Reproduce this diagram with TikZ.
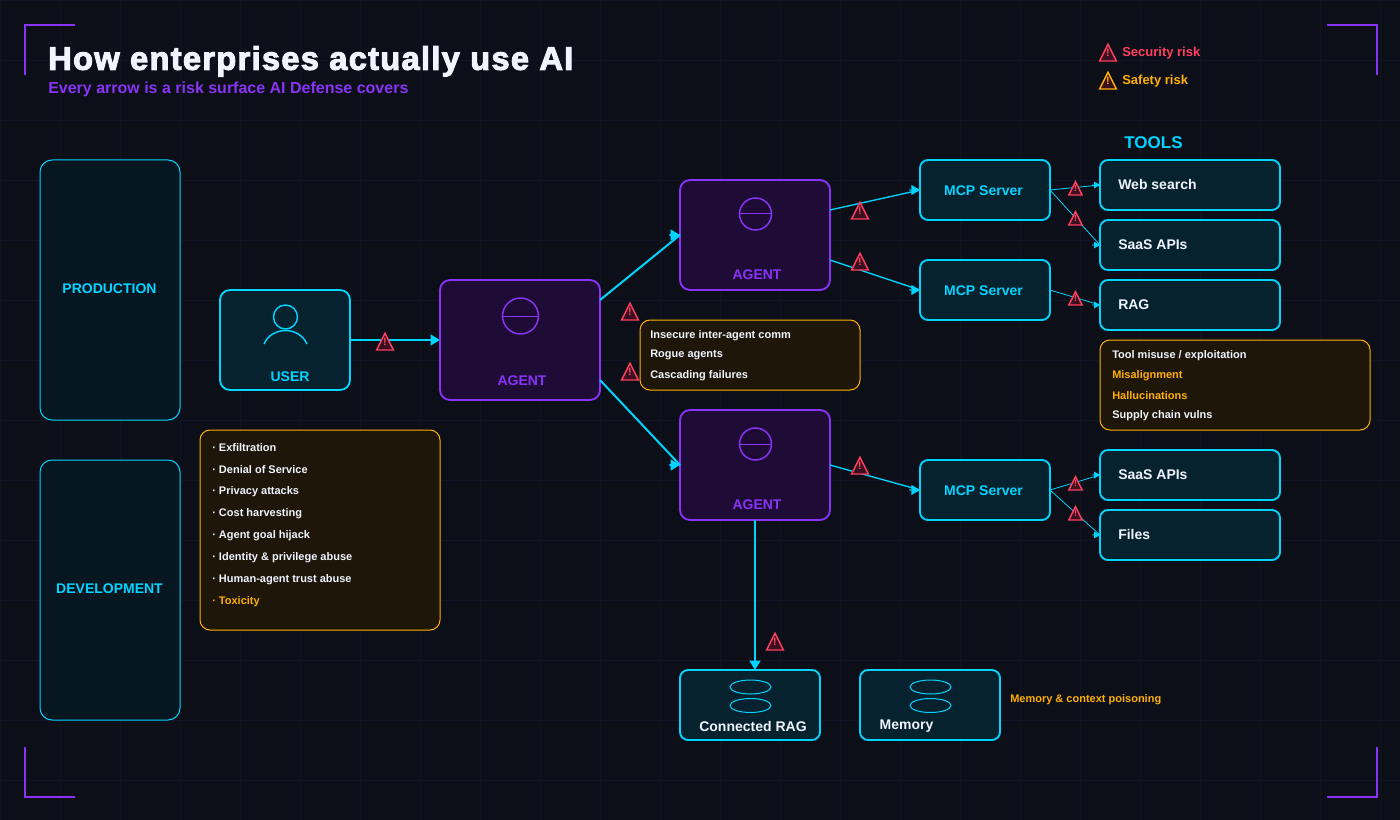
\documentclass[tikz,border=0pt]{standalone}
\usepackage{fontspec}
\setmainfont{Liberation Sans}
\newfontfamily\titlefont[FakeBold=3,LetterSpace=3.9]{Liberation Sans Bold}
\usetikzlibrary{shapes.geometric, arrows.meta}

\definecolor{bgdark}{HTML}{0C0F18}
\definecolor{gridline}{HTML}{121325}
\definecolor{cyanline}{HTML}{00D4FF}
\definecolor{cyanfill}{HTML}{06222F}
\definecolor{groupfill}{HTML}{071722}
\definecolor{purpleline}{HTML}{8833F5}
\definecolor{purplefill}{HTML}{1E0C36}
\definecolor{amberline}{HTML}{FFB000}
\definecolor{amberfill}{HTML}{1E1608}
\definecolor{redline}{HTML}{FF4060}
\definecolor{warnfill}{HTML}{3A0F20}
\definecolor{softwhite}{HTML}{F0F4FF}

\tikzset{
    box/.style={draw, rectangle, outer sep=0pt, inner sep=0pt},
    groupbox/.style={box, draw=cyanline, fill=groupfill, line width=0.75pt, rounded corners=9pt,
        minimum width=105pt, minimum height=195pt},
    userbox/.style={box, draw=cyanline, fill=cyanfill, line width=1.4pt, rounded corners=7.5pt,
        minimum width=97.5pt, minimum height=75pt},
    agentbox/.style={box, draw=purpleline, fill=purplefill, line width=1.4pt, rounded corners=7.5pt,
        minimum width=112.5pt, minimum height=82.5pt},
    mcpbox/.style={box, draw=cyanline, fill=cyanfill, line width=1.4pt, rounded corners=6pt,
        minimum width=97.5pt, minimum height=45pt},
    toolbox/.style={box, draw=cyanline, fill=cyanfill, line width=1.4pt, rounded corners=6pt,
        minimum width=135pt, minimum height=37.5pt},
    storebox/.style={box, draw=cyanline, fill=cyanfill, line width=1.4pt, rounded corners=6pt,
        minimum width=105pt, minimum height=52.5pt},
    calloutbox/.style={box, draw=amberline, fill=amberfill, line width=0.75pt, rounded corners=7.5pt},
    cyanlabel/.style={yshift=-0.4pt, text=cyanline, font=\fontsize{10.5}{12}\bfseries},
    purplelabel/.style={yshift=-0.4pt, text=purpleline, font=\fontsize{10.5}{12}\bfseries},
    whitelabel/.style={yshift=-0.4pt, text=softwhite, font=\fontsize{10.5}{12}\bfseries},
    smalltext/.style={yshift=-1pt, text=softwhite, anchor=west, inner sep=0pt, font=\fontsize{8.25}{10}\bfseries},
    ambertext/.style={smalltext, text=amberline},
    bigflow/.style={draw=cyanline, line width=1.5pt, -{Triangle[length=7pt,width=8pt]}},
    midflow/.style={draw=cyanline, line width=1pt, -{Triangle[length=6.5pt,width=7.5pt]}},
    thinflow/.style={draw=cyanline, line width=0.6pt, -{Triangle[length=4.5pt,width=5pt]}},
    warnbig/.style={isosceles triangle, isosceles triangle stretches, shape border rotate=90,
        anchor=lower side, draw=redline, fill=warnfill, text=redline, line width=1.1pt, inner sep=0pt, outer sep=0pt,
        minimum width=12.5pt, minimum height=12.5pt, font=\fontsize{8}{8}\bfseries},
    warnsmall/.style={warnbig, minimum width=10pt, minimum height=10pt, font=\fontsize{6.5}{6.5}\bfseries},
    warnamber/.style={warnbig, draw=amberline, text=amberline},
    iconline/.style={draw=cyanline, line width=0.75pt},
    bracket/.style={draw=purpleline, line width=1.5pt}
}

\begin{document}
\begin{tikzpicture}[x=0.75pt, y=-0.75pt]

    % --- Background ---
    \useasboundingbox (0,0) rectangle (1400,820);
    \fill[bgdark] (0,0) rectangle (1400,820);
    \foreach \gx in {0,60,...,1380} {
        \draw[gridline, line width=0.75pt] (\gx+0.5,0) -- (\gx+0.5,820);
    }
    \foreach \gy in {0,60,...,780} {
        \draw[gridline, line width=0.75pt] (0,\gy+0.5) -- (1400,\gy+0.5);
    }

    % --- Corner brackets ---
    \draw[bracket] (25,75) -- (25,25) -- (75,25);
    \draw[bracket] (1327,25) -- (1377,25) -- (1377,75);
    \draw[bracket] (25,747) -- (25,797) -- (75,797);
    \draw[bracket] (1327,797) -- (1377,797) -- (1377,747);

    % --- Title ---
    \node[anchor=west, inner sep=0pt, yshift=-1pt, text=softwhite, font=\titlefont\fontsize{24.5}{28}\selectfont] (title) at (48,60) {How enterprises actually use AI};
    \node[anchor=west, inner sep=0pt, yshift=-1.4pt, text=purpleline, font=\fontsize{12}{14}\bfseries] (subtitle) at (48,87) {Every arrow is a risk surface AI Defense covers};

    % --- Legend ---
    \node[warnbig] (legendsec) at (1108,61) {\smash{!}};
    \node[warnamber] (legendsaf) at (1108,89) {\smash{!}};
    \node[anchor=west, inner sep=0pt, yshift=-1.6pt, text=redline, font=\fontsize{9.75}{12}\bfseries] (legendsectext) at (1122,51) {Security risk};
    \node[anchor=west, inner sep=0pt, yshift=-1.6pt, text=amberline, font=\fontsize{9.75}{12}\bfseries] (legendsaftext) at (1122,79) {Safety risk};

    % --- Groups ---
    \node[groupbox] (production) at (110,290) {};
    \node[groupbox] (development) at (110,590) {};
    \node[cyanlabel] (productiontext) at (109.5,288) {PRODUCTION};
    \node[cyanlabel] (developmenttext) at (109.5,588) {DEVELOPMENT};

    % --- User ---
    \node[userbox] (user) at (285,340) {};
    \draw[iconline, line width=1.1pt] (285.5,317) circle (12);
    \draw[iconline, line width=1.1pt] (264,344) .. controls (272,326) and (299,326) .. (307,344);
    \node[cyanlabel] (usertext) at (290,376) {USER};

    % --- Agents ---
    \node[agentbox, minimum width=120pt, minimum height=90pt] (agentM) at (520,340) {};
    \node[agentbox] (agentA) at (755,235) {};
    \node[agentbox] (agentC) at (755,465) {};
    \draw[purpleline, line width=1.1pt] (520.5,316) circle (18);
    \draw[purpleline, line width=0.75pt] (502.5,316) -- (538.5,316);
    \draw[purpleline, line width=1.1pt] (755.5,214) circle (16);
    \draw[purpleline, line width=0.75pt] (739.5,214) -- (771.5,214);
    \draw[purpleline, line width=1.1pt] (755.5,444) circle (16);
    \draw[purpleline, line width=0.75pt] (739.5,444) -- (771.5,444);
    \node[purplelabel] (agentMtext) at (522,380) {AGENT};
    \node[purplelabel] (agentAtext) at (757,274) {AGENT};
    \node[purplelabel] (agentCtext) at (757,504) {AGENT};

    % --- MCP servers ---
    \node[mcpbox] (mcpA) at (985,190) {};
    \node[mcpbox] (mcpB) at (985,290) {};
    \node[mcpbox] (mcpC) at (985,490) {};
    \node[cyanlabel] (mcpAtext) at (983.5,190) {MCP Server};
    \node[cyanlabel] (mcpBtext) at (983.5,290) {MCP Server};
    \node[cyanlabel] (mcpCtext) at (983.5,490) {MCP Server};

    % --- Tools ---
    \node[cyanlabel, font=\fontsize{12.75}{15}\bfseries] (toolstext) at (1153.5,142) {TOOLS};
    \node[toolbox] (webtool) at (1190,185) {};
    \node[toolbox] (saastool) at (1190,245) {};
    \node[toolbox] (ragtool) at (1190,305) {};
    \node[toolbox] (saastoolB) at (1190,475) {};
    \node[toolbox] (filetool) at (1190,535) {};
    \node[whitelabel, anchor=west, inner sep=0pt] (webtext) at (1118,184) {Web search};
    \node[whitelabel, anchor=west, inner sep=0pt] (saastext) at (1118,244) {SaaS APIs};
    \node[whitelabel, anchor=west, inner sep=0pt] (ragtext) at (1118,304) {RAG};
    \node[whitelabel, anchor=west, inner sep=0pt] (saastextB) at (1118,474) {SaaS APIs};
    \node[whitelabel, anchor=west, inner sep=0pt] (filetext) at (1118,534) {Files};

    % --- Stores ---
    \node[storebox] (ragstore) at (750,705) {};
    \node[storebox] (memstore) at (930,705) {};
    \draw[iconline] (750.5,687) ellipse (20.5 and 7);
    \draw[iconline] (750.5,705.5) ellipse (20.5 and 7);
    \draw[iconline] (930.5,687) ellipse (20.5 and 7);
    \draw[iconline] (930.5,705.5) ellipse (20.5 and 7);
    \node[whitelabel] (ragstoretext) at (753,726) {Connected RAG};
    \node[whitelabel] (memstoretext) at (906.5,726) {Memory};
    \node[ambertext] (memnote) at (1010,698) {Memory \& context poisoning};

    % --- Risk callouts ---
    \node[calloutbox, minimum width=180pt, minimum height=150pt] (riskuser) at (320,530) {};
    \foreach \risk [count=\i from 0] in {Exfiltration, Denial of Service, Privacy attacks, Cost harvesting, Agent goal hijack, Identity \& privilege abuse, Human-agent trust abuse} {
        \node[smalltext] (riskuser\i) at (212,446+22*\i) {· \risk};
    }
    \node[ambertext] (riskuser7) at (212,600) {· Toxicity};

    \node[calloutbox, minimum width=165pt, minimum height=52.5pt] (riskagent) at (750,355) {};
    \node[smalltext] (riskagentA) at (650,334) {Insecure inter-agent comm};
    \node[smalltext] (riskagentB) at (650,354) {Rogue agents};
    \node[smalltext] (riskagentC) at (650,374) {Cascading failures};

    \node[calloutbox, minimum width=202.5pt, minimum height=67.5pt] (risktool) at (1235,385) {};
    \node[smalltext] (risktoolA) at (1112,354) {Tool misuse / exploitation};
    \node[ambertext] (risktoolB) at (1112,374) {Misalignment};
    \node[ambertext] (risktoolC) at (1112,394) {Hallucinations};
    \node[smalltext] (risktoolD) at (1112,414) {Supply chain vulns};

    % --- Connectors ---
    % the tips stay horizontal on slanted lines, hence the short second piece
    \draw[bigflow] (user.east) -- (agentM.west);
    \draw[bigflow] ([yshift=30pt]agentM.east) -- (agentA.west) ([xshift=-8pt]agentA.west) -- (agentA.west);
    \draw[bigflow] ([yshift=-30pt]agentM.east) -- (agentC.west) ([xshift=-8pt]agentC.west) -- (agentC.west);
    \draw[midflow] ([yshift=18.75pt]agentA.east) -- (mcpA.west) ([xshift=-8pt]mcpA.west) -- (mcpA.west);
    \draw[midflow] ([yshift=-18.75pt]agentA.east) -- (mcpB.west) ([xshift=-8pt]mcpB.west) -- (mcpB.west);
    \draw[midflow] (agentC.east) -- (mcpC.west) ([xshift=-8pt]mcpC.west) -- (mcpC.west);
    \draw[thinflow] (mcpA.east) -- (webtool.west) ([xshift=-6pt]webtool.west) -- (webtool.west);
    \draw[thinflow] (mcpA.east) -- (saastool.west) ([xshift=-6pt]saastool.west) -- (saastool.west);
    \draw[thinflow] (mcpB.east) -- (ragtool.west) ([xshift=-6pt]ragtool.west) -- (ragtool.west);
    \draw[thinflow] (mcpC.east) -- (saastoolB.west) ([xshift=-6pt]saastoolB.west) -- (saastoolB.west);
    \draw[thinflow] (mcpC.east) -- (filetool.west) ([xshift=-6pt]filetool.west) -- (filetool.west);
    \draw[bigflow] (agentC.south) -- (agentC.south |- ragstore.north);

    % --- Risk markers ---
    \node[warnbig] (warnuser) at (385,350) {\smash{!}};
    \node[warnbig] (warnA) at (630,320) {\smash{!}};
    \node[warnbig] (warnB) at (630,380) {\smash{!}};
    \node[warnbig] (warnC) at (860,219) {\smash{!}};
    \node[warnbig] (warnD) at (860,270) {\smash{!}};
    \node[warnbig] (warnE) at (860,474) {\smash{!}};
    \node[warnbig] (warnF) at (775,650) {\smash{!}};
    \node[warnsmall] (warnG) at (1075.5,195) {\smash{!}};
    \node[warnsmall] (warnH) at (1075.5,225) {\smash{!}};
    \node[warnsmall] (warnI) at (1075.5,305) {\smash{!}};
    \node[warnsmall] (warnJ) at (1075.5,490) {\smash{!}};
    \node[warnsmall] (warnK) at (1075.5,520) {\smash{!}};

\end{tikzpicture}
\end{document}
